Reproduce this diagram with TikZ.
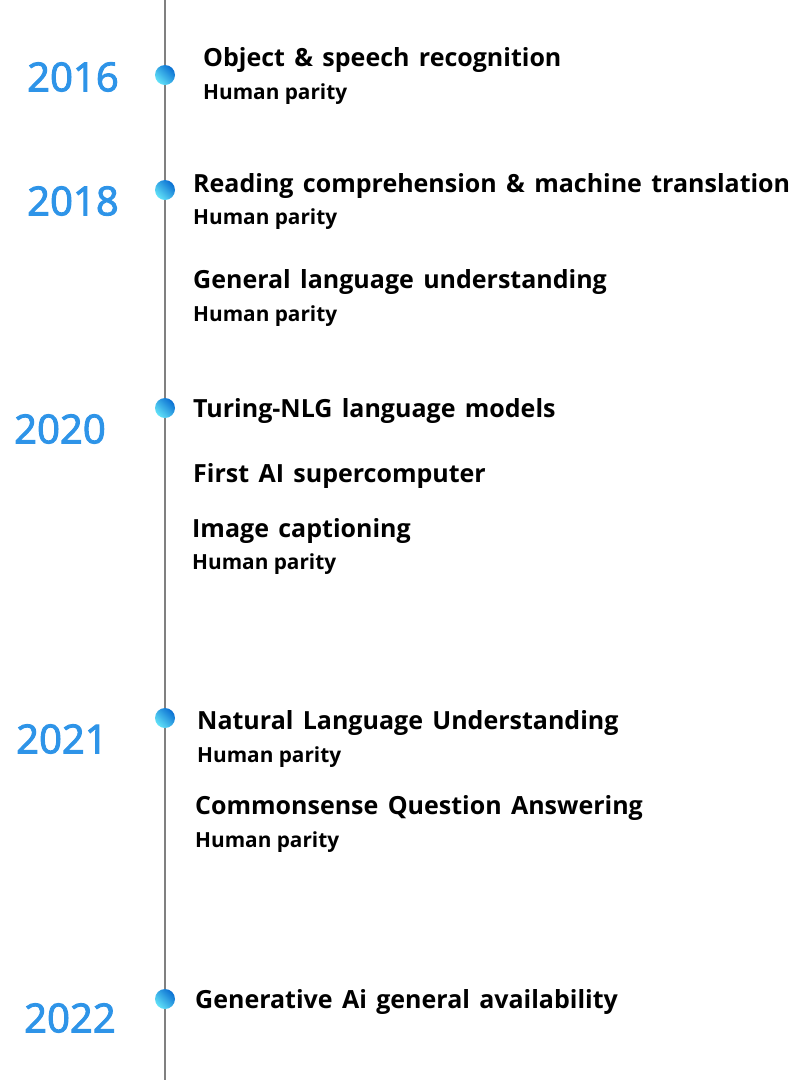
\documentclass[tikz,border=0pt]{standalone}
\usepackage{fontspec}
\setmainfont{Open Sans}
\newfontfamily\ttlfont[WordSpace=1.44]{Open Sans}
\newfontfamily\yrfont[RawFeature={embolden=2.5}]{Open Sans}
\begin{document}
\begin{tikzpicture}[x=1pt,y=-1pt,
  yearlbl/.style={font=\yrfont\fontsize{40}{44}\selectfont, text=yearblue, inner sep=0pt},
  ttl/.style={font=\ttlfont\bfseries\fontsize{25}{28}\selectfont, anchor=west, inner sep=0pt},
  sub/.style={font=\bfseries\fontsize{20.8}{23}\selectfont, anchor=west, inner sep=0pt},
  dot/.style={circle, inner sep=0pt, minimum size=20pt, left color=dotdark, right color=dotlight, shading angle=-45}
]
\definecolor{yearblue}{HTML}{2E94E8}
\definecolor{dotdark}{HTML}{0A6FD2}
\definecolor{dotlight}{HTML}{62E3F8}
\definecolor{linegray}{HTML}{808080}
\useasboundingbox (0,0) rectangle (790,1080);
\coordinate (top) at (165,0);
\coordinate (bot) at (165,1080);
\draw[linegray, line width=2pt] (top) -- (bot);
% dots
\node[dot] (d16) at (165,75) {};
\node[dot] (d18) at (165,190) {};
\node[dot] (d20) at (165,408) {};
\node[dot] (d21) at (165,718) {};
\node[dot] (d22) at (165,999) {};
% years
\node[yearlbl] (y16) at (73,77) {2016};
\node[yearlbl] (y18) at (73,201) {2018};
\node[yearlbl] (y20) at (60,429) {2020};
\node[yearlbl] (y21) at (62,739) {2021};
\node[yearlbl] (y22) at (70,1018) {2022};
% items
\node[ttl] (t1) at (203,60) {Object \& speech recognition};
\node[sub] (s1) at (203,94) {Human parity};
\node[ttl] (t2) at (193,186) {Reading comprehension \& machine translation};
\node[sub] (s2) at (193,219) {Human parity};
\node[ttl] (t3) at (193,282) {General language understanding};
\node[sub] (s3) at (193,316) {Human parity};
\node[ttl] (t4) at (193,411) {Turing-NLG language models};
\node[ttl] (t5) at (193,476) {First AI supercomputer};
\node[ttl] (t6) at (192,531) {Image captioning};
\node[sub] (s6) at (192,564) {Human parity};
\node[ttl] (t7) at (197,723) {Natural Language Understanding};
\node[sub] (s7) at (197,757) {Human parity};
\node[ttl] (t8) at (195,808) {Commonsense Question Answering};
\node[sub] (s8) at (195,842) {Human parity};
\node[ttl] (t9) at (195,1002) {Generative Ai general availability};
\end{tikzpicture}
\end{document}
